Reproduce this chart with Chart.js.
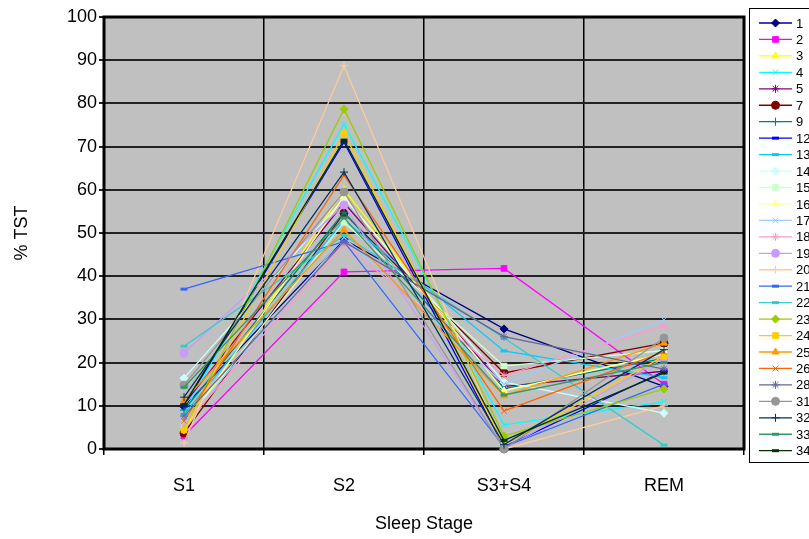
<!DOCTYPE html>
<html>
<head>
<meta charset="utf-8">
<script src="https://cdn.jsdelivr.net/npm/chart.js@4"></script>
<style>
  html, body { margin: 0; padding: 0; background: #fff; }
  #wrap { width: 809px; height: 539px; }
</style>
</head>
<body>
<div id="wrap"><canvas id="sleepChart" width="809" height="539"></canvas></div>
<script>
// sleep stages on the x axis
const stages = ['S1', 'S2', 'S3+S4', 'REM'];

// subject ids (legend order)
const subjects = ['1','2','3','4','5','7','9','12','13','14','15','16','17','18','19','20','21','22','23','24','25','26','28','31','32','33','34'];

// % TST per stage, one row per subject
const s1   = [9.8, 3.0, 4.5, 8.5, 10.4, 3.7, 9.0, 10.0, 8.0, 16.4, 5.5, 5.0, 6.0, 5.5, 22.2, 1.4, 37.0, 23.8, 4.4, 4.4, 11.3, 6.5, 7.6, 14.8, 12.0, 14.3, 10.2];
const s2   = [48.5, 41.0, 60.0, 75.2, 57.0, 54.6, 54.8, 71.0, 53.0, 58.0, 52.5, 58.5, 49.0, 47.5, 56.5, 88.7, 48.0, 49.5, 78.7, 73.1, 50.7, 63.4, 48.0, 59.5, 64.1, 53.5, 71.5];
const s34  = [27.8, 41.8, 13.5, 5.6, 14.5, 17.6, 14.0, 0.5, 22.7, 15.5, 19.2, 13.5, 15.0, 17.0, 0.0, 0.0, 0.5, 25.7, 3.0, 1.0, 12.3, 8.8, 26.0, 0.0, 1.0, 12.5, 2.0];
const rem  = [14.5, 15.0, 22.0, 10.9, 18.0, 24.5, 21.0, 18.0, 16.5, 8.3, 22.8, 22.0, 29.9, 28.5, 21.0, 10.0, 15.0, 0.9, 13.9, 21.5, 24.5, 22.5, 18.5, 25.7, 23.0, 20.0, 17.6];

const yTicks = { min: 0, max: 100, step: 10 };

// excel style line colours + markers
const colors = ['#000080','#FF00FF','#FFFF00','#00FFFF','#800080','#800000','#008080','#0000FF','#00CCFF','#CCFFFF','#CCFFCC','#FFFF99','#99CCFF','#FF99CC','#CC99FF','#FFCC99','#3366FF','#33CCCC','#99CC00','#FFCC00','#FF9900','#FF6600','#666699','#969696','#003366','#339966','#003300'];
const markers = ['rectRot','rect','triangle','crossRot','star','circle','cross','line','line'];

const datasets = subjects.map(function (id, i) {
  const style = markers[i % markers.length];
  return {
    label: id,
    data: [s1[i], s2[i], s34[i], rem[i]],
    borderColor: colors[i],
    backgroundColor: colors[i],
    borderWidth: 1.3,
    pointStyle: style,
    pointRadius: style === 'line' ? 3.5 : 4,
    pointBorderWidth: style === 'line' ? 3 : 1,
    pointBorderColor: colors[i],
    pointBackgroundColor: colors[i],
    tension: 0,
    fill: false,
    clip: 6,
    order: subjects.length - i
  };
});

const plotStyle = {
  id: 'plotStyle',
  beforeDraw(chart) {
    const a = chart.chartArea, ctx = chart.ctx;
    ctx.save();
    ctx.fillStyle = '#C0C0C0';
    ctx.fillRect(a.left, a.top, a.right - a.left, a.bottom - a.top);
    ctx.restore();
  },
  beforeDatasetsDraw(chart) {
    const a = chart.chartArea, ctx = chart.ctx;
    ctx.save();
    ctx.strokeStyle = '#000';
    ctx.lineWidth = 3;
    ctx.strokeRect(a.left, a.top, a.right - a.left, a.bottom - a.top);
    ctx.restore();
  },
  afterDraw(chart) {
    // legend box on the right, cut off by the window like the original
    const ctx = chart.ctx;
    const x0 = 749, y0 = 8, rowH = 16.45;
    ctx.save();
    ctx.fillStyle = '#fff';
    ctx.fillRect(x0, y0, 80, 454);
    ctx.strokeStyle = '#000';
    ctx.lineWidth = 1;
    ctx.strokeRect(x0 + 0.5, y0 + 0.5, 80, 454);
    ctx.font = '13px "Liberation Sans", Arial, sans-serif';
    ctx.textBaseline = 'middle';
    chart.data.datasets.forEach(function (ds, i) {
      const y = 23 + i * rowH;
      ctx.strokeStyle = ds.borderColor;
      ctx.lineWidth = 1.3;
      ctx.beginPath();
      ctx.moveTo(759, y);
      ctx.lineTo(792, y);
      ctx.stroke();
      ctx.fillStyle = ds.backgroundColor;
      ctx.lineWidth = ds.pointBorderWidth;
      Chart.helpers.drawPoint(ctx, {
        pointStyle: ds.pointStyle,
        radius: ds.pointRadius,
        rotation: 0,
        borderWidth: ds.pointBorderWidth
      }, 775.5, y);
      ctx.fillStyle = '#000';
      ctx.fillText(ds.label, 796, y + 1);
    });
    ctx.restore();
  }
};

new Chart(document.getElementById('sleepChart'), {
  type: 'line',
  data: { labels: stages, datasets: datasets },
  options: {
    responsive: false,
    animation: false,
    layout: { padding: { top: 17, right: 65, left: 0, bottom: 0 } },
    plugins: {
      legend: { display: false },
      tooltip: { enabled: false }
    },
    scales: {
      x: {
        offset: true,
        grid: { offset: true, color: '#000', lineWidth: 1.5, tickLength: 6, drawOnChartArea: true },
        border: { display: false },
        ticks: { color: '#000', padding: 20, font: { family: '"Liberation Sans", Arial, sans-serif', size: 18 } },
        title: { display: true, text: 'Sleep Stage', color: '#000', padding: { top: 4, bottom: 4 },
          font: { family: '"Liberation Sans", Arial, sans-serif', size: 18 } },
        afterFit(scale) { scale.height = 90; }
      },
      y: {
        min: yTicks.min,
        max: yTicks.max,
        ticks: { stepSize: yTicks.step, color: '#000', padding: 2,
          font: { family: '"Liberation Sans", Arial, sans-serif', size: 18 } },
        grid: { color: '#222', lineWidth: 2, tickLength: 5 },
        border: { display: false },
        title: { display: true, text: '% TST', color: '#000', padding: { top: 11, bottom: 4 },
          font: { family: '"Liberation Sans", Arial, sans-serif', size: 18 } },
        afterFit(scale) { scale.width = 104; }
      }
    }
  },
  plugins: [plotStyle]
});
</script>
</body>
</html>
